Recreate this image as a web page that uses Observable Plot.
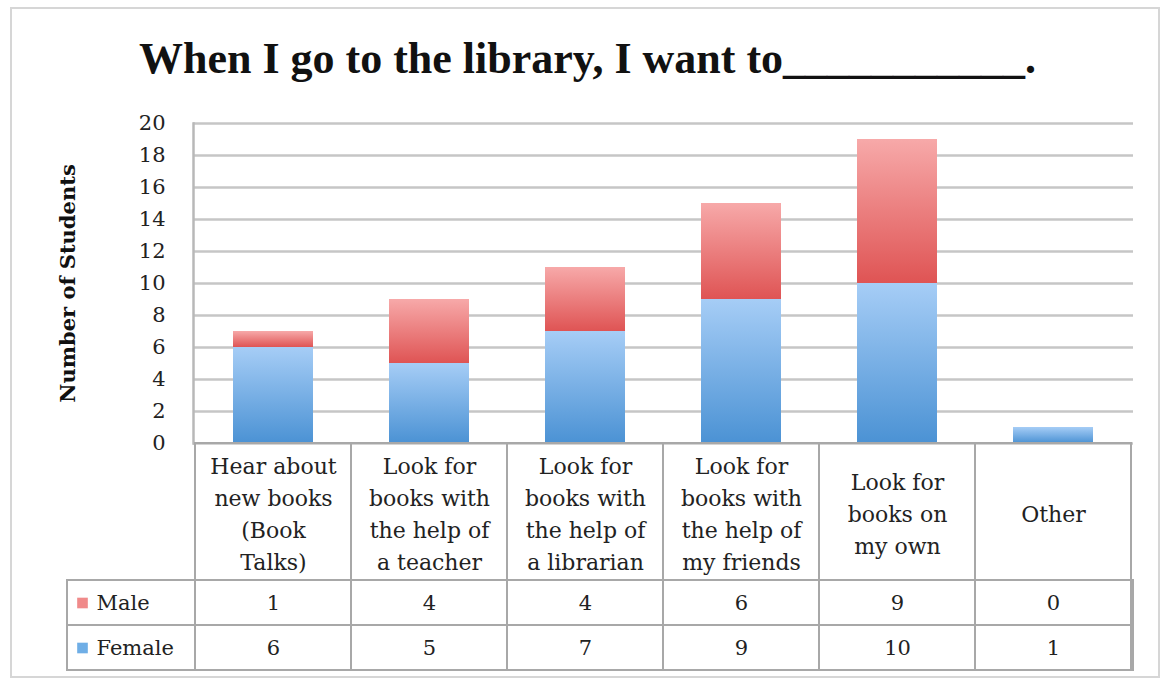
<!DOCTYPE html>
<html><head><meta charset="utf-8">
<script src="https://cdn.jsdelivr.net/npm/d3@7"></script>
<script src="https://cdn.jsdelivr.net/npm/@observablehq/plot@0.6"></script>
<style>
body{margin:0;background:#fff;}
#wrap{position:relative;width:1163px;height:679px;overflow:hidden;background:#fff;}
#border{position:absolute;left:10px;top:7px;width:1146px;height:667px;border:2px solid #d6d6d6;}
#title{position:absolute;left:0;top:33px;width:1175px;text-align:center;font:bold 44px "Liberation Serif";color:#111;white-space:pre;}
#chart{position:absolute;left:0;top:100px;}
#labels{position:absolute;left:0;top:443px;}
#values{position:absolute;left:0;top:580px;}
svg{display:block;overflow:visible;}
</style></head><body>
<div id="wrap"><div id="border"></div><div id="title"></div><div id="chart"></div><div id="labels"></div><div id="values"></div></div>
<script>
const title = "When I go to the library, I want to___________.";
const categories = ["Hear about new books (Book Talks)", "Look for books with the help of a teacher", "Look for books with the help of a librarian", "Look for books with the help of my friends", "Look for books on my own", "Other"];
const categoryLabels = ["Hear about\nnew books\n(Book\nTalks)", "Look for\nbooks with\nthe help of\na teacher", "Look for\nbooks with\nthe help of\na librarian", "Look for\nbooks with\nthe help of\nmy friends", "Look for\nbooks on\nmy own", "Other"];
const series = ["Male", "Female"];
const male = [1, 4, 4, 6, 9, 0];
const female = [6, 5, 7, 9, 10, 1];
const yTicks = [0, 2, 4, 6, 8, 10, 12, 14, 16, 18, 20];
const yLabel = "Number of Students";

document.getElementById("title").textContent = title;

const values = {Male: male, Female: female};
// stacked data: Female at bottom, Male on top
const barData = [];
for (const s of ["Female", "Male"]) categories.forEach((c, i) => barData.push({category: c, sex: s, value: values[s][i]}));
const tableRows = [];
for (const s of series) categories.forEach((c, i) => tableRows.push({category: c, sex: s, value: values[s][i]}));

const font = "DejaVu Serif";
const W = 1163, ML = 193, MR = 30;

function gradients() {
  const defs = d3.create("svg:defs");
  const g = [["gradF", "#a6cdf6", "#4b92d4"], ["gradM", "#f7a9a9", "#df5454"]];
  for (const [id, a, b] of g) {
    const lg = defs.append("linearGradient").attr("id", id).attr("x1", 0).attr("y1", 0).attr("x2", 0).attr("y2", 1);
    lg.append("stop").attr("offset", "0%").attr("stop-color", a);
    lg.append("stop").attr("offset", "100%").attr("stop-color", b);
  }
  return defs.node();
}

const chart = Plot.plot({
  width: W, height: 343, marginTop: 23, marginBottom: 0, marginLeft: ML, marginRight: MR,
  style: {fontFamily: font, background: "transparent"},
  x: {domain: categories, paddingInner: 0.49, paddingOuter: 0.245, axis: null},
  y: {domain: [0, 20], axis: null},
  color: {domain: ["Female", "Male"], range: ["url(#gradF)", "url(#gradM)"]},
  marks: [
    gradients,
    Plot.gridY(yTicks, {stroke: "#c6c6c6", strokeOpacity: 1, strokeWidth: 2.5}),
    Plot.frame({anchor: "left", stroke: "#b8b8b8", strokeWidth: 2.5}),
    Plot.barY(barData, {x: "category", y: "value", fill: "sex"}),
    Plot.axisY(yTicks, {tickSize: 0, tickPadding: 28, fontSize: 21, fill: "#222", label: null}),
    Plot.text([yLabel], {frameAnchor: "left", dx: -125, rotate: -90, textAnchor: "middle", fontWeight: "bold", fontSize: 21, fill: "#111"})
  ]
});
document.getElementById("chart").append(chart);

const labels = Plot.plot({
  width: W, height: 137, margin: 0, marginLeft: ML, marginRight: MR,
  style: {fontFamily: font, background: "transparent"},
  x: {domain: categories, padding: 0, axis: null},
  marks: [
    Plot.cell(categories, {x: d => d, fill: "none", stroke: "#a8a8a8", strokeWidth: 2}),
    Plot.text(categories, {x: d => d, text: (d, i) => categoryLabels[i], fontSize: 22, lineHeight: 1.46, fill: "#222"})
  ]
});
document.getElementById("labels").append(labels);

const vals = Plot.plot({
  width: W, height: 90, margin: 0, marginLeft: ML, marginRight: MR,
  style: {fontFamily: font, background: "transparent"},
  x: {domain: categories, padding: 0, axis: null},
  y: {domain: series, padding: 0, axis: null},
  marks: [
    Plot.cell(series, {y: d => d, insetLeft: -126, fill: "none", stroke: "#a8a8a8", strokeWidth: 2}),
    Plot.cell(tableRows, {x: "category", y: "sex", fill: "none", stroke: "#a8a8a8", strokeWidth: 2}),
    Plot.text(tableRows, {x: "category", y: "sex", text: d => String(d.value), fontSize: 21, fill: "#222"}),
    Plot.dot(["Male"], {y: d => d, frameAnchor: "left", dx: -111, symbol: "square", r: 6, fill: "#f08a8a"}),
    Plot.dot(["Female"], {y: d => d, frameAnchor: "left", dx: -111, symbol: "square", r: 6, fill: "#6faee6"}),
    Plot.text(series, {y: d => d, frameAnchor: "left", dx: -97, textAnchor: "start", fontSize: 21, fill: "#222"})
  ]
});
document.getElementById("values").append(vals);
</script>
</body></html>
